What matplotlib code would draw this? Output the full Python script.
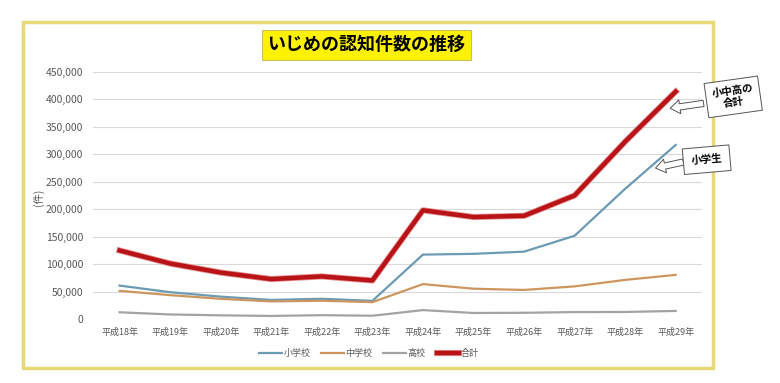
import matplotlib.pyplot as plt
import matplotlib.patheffects as pe
from matplotlib.patches import Rectangle
import numpy as np

plt.rcParams['font.family'] = ['Noto Sans CJK JP', 'DejaVu Sans']

# いじめの認知件数 (文部科学省)
years = ['平成18年', '平成19年', '平成20年', '平成21年', '平成22年', '平成23年',
         '平成24年', '平成25年', '平成26年', '平成27年', '平成28年', '平成29年']
shogakko = [60897, 48896, 40807, 34766, 36909, 33124, 117384, 118748, 122734, 151692, 237256, 317121]
chugakko = [51310, 43505, 36795, 32111, 33323, 30749, 63634, 55248, 52971, 59502, 71309, 80424]
koko = [12307, 8355, 6737, 5642, 7018, 6020, 16274, 11039, 11404, 12664, 12874, 14789]
gokei = [124898, 101097, 84648, 72778, 77630, 70231, 198109, 185803, 188072, 225132, 323143, 414378]

fig = plt.figure(figsize=(7.8, 3.83), dpi=100)
ax = fig.add_axes([0.119, 0.167, 0.781, 0.645])

x = np.arange(len(years))
ax.plot(x, shogakko, color='#6b9bb3', lw=1.6, label='小学校')
ax.plot(x, chugakko, color='#cd965f', lw=1.6, label='中学校')
ax.plot(x, koko, color='#a3a3a3', lw=1.6, label='高校')
ax.plot(x, gokei, color='#b81418', lw=3.2, label='合計',
        path_effects=[pe.Stroke(linewidth=4.4, foreground='#e89090'), pe.Normal()])

ax.set_xlim(-0.53, 11.52)
ax.set_ylim(0, 450000)
ax.set_yticks(np.arange(0, 450001, 50000))
ax.yaxis.set_major_formatter(plt.FuncFormatter(lambda v, p: f'{int(v):,}'))
ax.set_xticks(x)
ax.set_xticklabels(years)
ax.tick_params(length=0, labelsize=6.5, labelcolor='#595959', pad=6)
ax.tick_params(axis='y', labelsize=7.5, pad=7)
ax.grid(axis='y', color='#d9d9d9', lw=0.8)
ax.set_axisbelow(True)
for s in ax.spines.values():
    s.set_visible(False)
ax.set_ylabel('(件)', fontsize=7.5, color='#595959')
ax.yaxis.set_label_coords(-0.08, 0.494)

# タイトル
fig.text(0.47, 0.883, 'いじめの認知件数の推移', ha='center', va='center',
         fontsize=13, fontweight='bold', color='black',
         bbox=dict(boxstyle='square,pad=0.3', fc='#fff200', ec='#c8c060', lw=0.8))

# 凡例
fig.legend(loc='center', bbox_to_anchor=(0.473, 0.076), ncol=4, frameon=False,
           fontsize=6.5, labelcolor='#595959', handlelength=2.5, handletextpad=0.2,
           columnspacing=1.2)

# 吹き出し (矢印 + 枠付きテキスト)
arrow = dict(arrowstyle='simple,head_length=0.7,head_width=1.0,tail_width=0.45',
             fc='white', ec='#555555', lw=0.7, shrinkA=0, shrinkB=0,
             mutation_scale=10)
ax.annotate('', xy=(10.89, 384000), xycoords='data',
            xytext=(0.902, 0.730), textcoords='figure fraction',
            arrowprops=arrow, annotation_clip=False)
ax.annotate('', xy=(10.6, 275000), xycoords='data',
            xytext=(0.876, 0.577), textcoords='figure fraction',
            arrowprops=arrow, annotation_clip=False)
fig.text(0.94, 0.747, '小中高の\n合計', ha='center', va='center', fontsize=7.5,
         fontweight='bold', rotation=8, linespacing=1.25,
         bbox=dict(boxstyle='square,pad=0.6', fc='white', ec='#555555', lw=0.7))
fig.text(0.906, 0.583, '小学生', ha='center', va='center', fontsize=7.5,
         fontweight='bold', rotation=5,
         bbox=dict(boxstyle='square,pad=0.75', fc='white', ec='#555555', lw=0.7))

# 外枠
fig.patches.append(Rectangle((0.03, 0.038), 0.884, 0.905, transform=fig.transFigure,
                             fill=False, ec='#e6da78', lw=2.5, zorder=0))

fig.savefig('out.png', dpi=100)
